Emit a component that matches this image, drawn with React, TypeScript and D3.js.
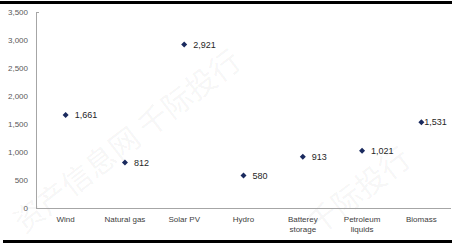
import React from "react";
import * as d3 from "d3";

const categories = ["Wind", "Natural gas", "Solar PV", "Hydro", "Batterey\nstorage", "Petroleum\nliquids", "Biomass"];
const values = [1661, 812, 2921, 580, 913, 1021, 1531];
const yTicks = [0, 500, 1000, 1500, 2000, 2500, 3000, 3500];

const W = 458;
const H = 245;
const M = { left: 36, right: 451, top: 12, bottom: 208 };

export default function App() {
  const x = d3.scaleBand<string>().domain(categories).range([M.left, M.right]);
  const y = d3.scaleLinear().domain([0, 3500]).range([M.bottom, M.top]);
  const fmt = d3.format(",");
  const r = 3;
  const diamond = `M0,${-r}L${r},0L0,${r}L${-r},0Z`;
  const font = "'Liberation Sans', Arial, sans-serif";

  return (
    <svg width={W} height={H} style={{ position: "absolute", left: 0, top: 0, background: "#fff" }} fontFamily={font}>
      {/* watermark */}
      <g fill="#000" fillOpacity={0.05} fontFamily="'Noto Sans CJK SC', sans-serif" fontSize={30}>
        <text transform="translate(24,234) rotate(-37.6)">资产信息网 千际投行</text>
        <text transform="translate(318,236) rotate(-37.6)">千际投行</text>
      </g>
      {/* frame bars */}
      <rect x={0} y={1} width={452} height={3} fill="#000" />
      <rect x={3} y={240} width={449} height={3} fill="#000" />
      {/* axes */}
      <line x1={M.left + 0.5} x2={M.left + 0.5} y1={M.top} y2={M.bottom} stroke="#a6a6a6" />
      <line x1={M.left} x2={M.left + 3} y1={M.top + 0.5} y2={M.top + 0.5} stroke="#a6a6a6" />
      <line x1={M.left} x2={M.right} y1={M.bottom + 0.5} y2={M.bottom + 0.5} stroke="#a6a6a6" />
      {yTicks.map((t) => (
        <text key={t} x={28} y={y(t)} dy="0.35em" textAnchor="end" fontSize={8} fill="#595959">
          {fmt(t)}
        </text>
      ))}
      {categories.map((c) => {
        const cx = (x(c) as number) + x.bandwidth() / 2;
        const lines = c.split("\n");
        return (
          <text key={c} x={cx} y={222} textAnchor="middle" fontSize={8} fill="#404040">
            {lines.map((l, i) => (
              <tspan key={i} x={cx} dy={i === 0 ? 0 : 9.5}>
                {l}
              </tspan>
            ))}
          </text>
        );
      })}
      {categories.map((c, i) => {
        const cx = (x(c) as number) + x.bandwidth() / 2;
        const cy = y(values[i]);
        const off = i === categories.length - 1 ? 3 : 9;
        return (
          <g key={c}>
            <path d={diamond} transform={`translate(${cx},${cy})`} fill="#1a2a5e" />
            <text x={cx + off} y={cy} dy="0.35em" fontSize={9} fill="#262626">
              {fmt(values[i])}
            </text>
          </g>
        );
      })}
    </svg>
  );
}
